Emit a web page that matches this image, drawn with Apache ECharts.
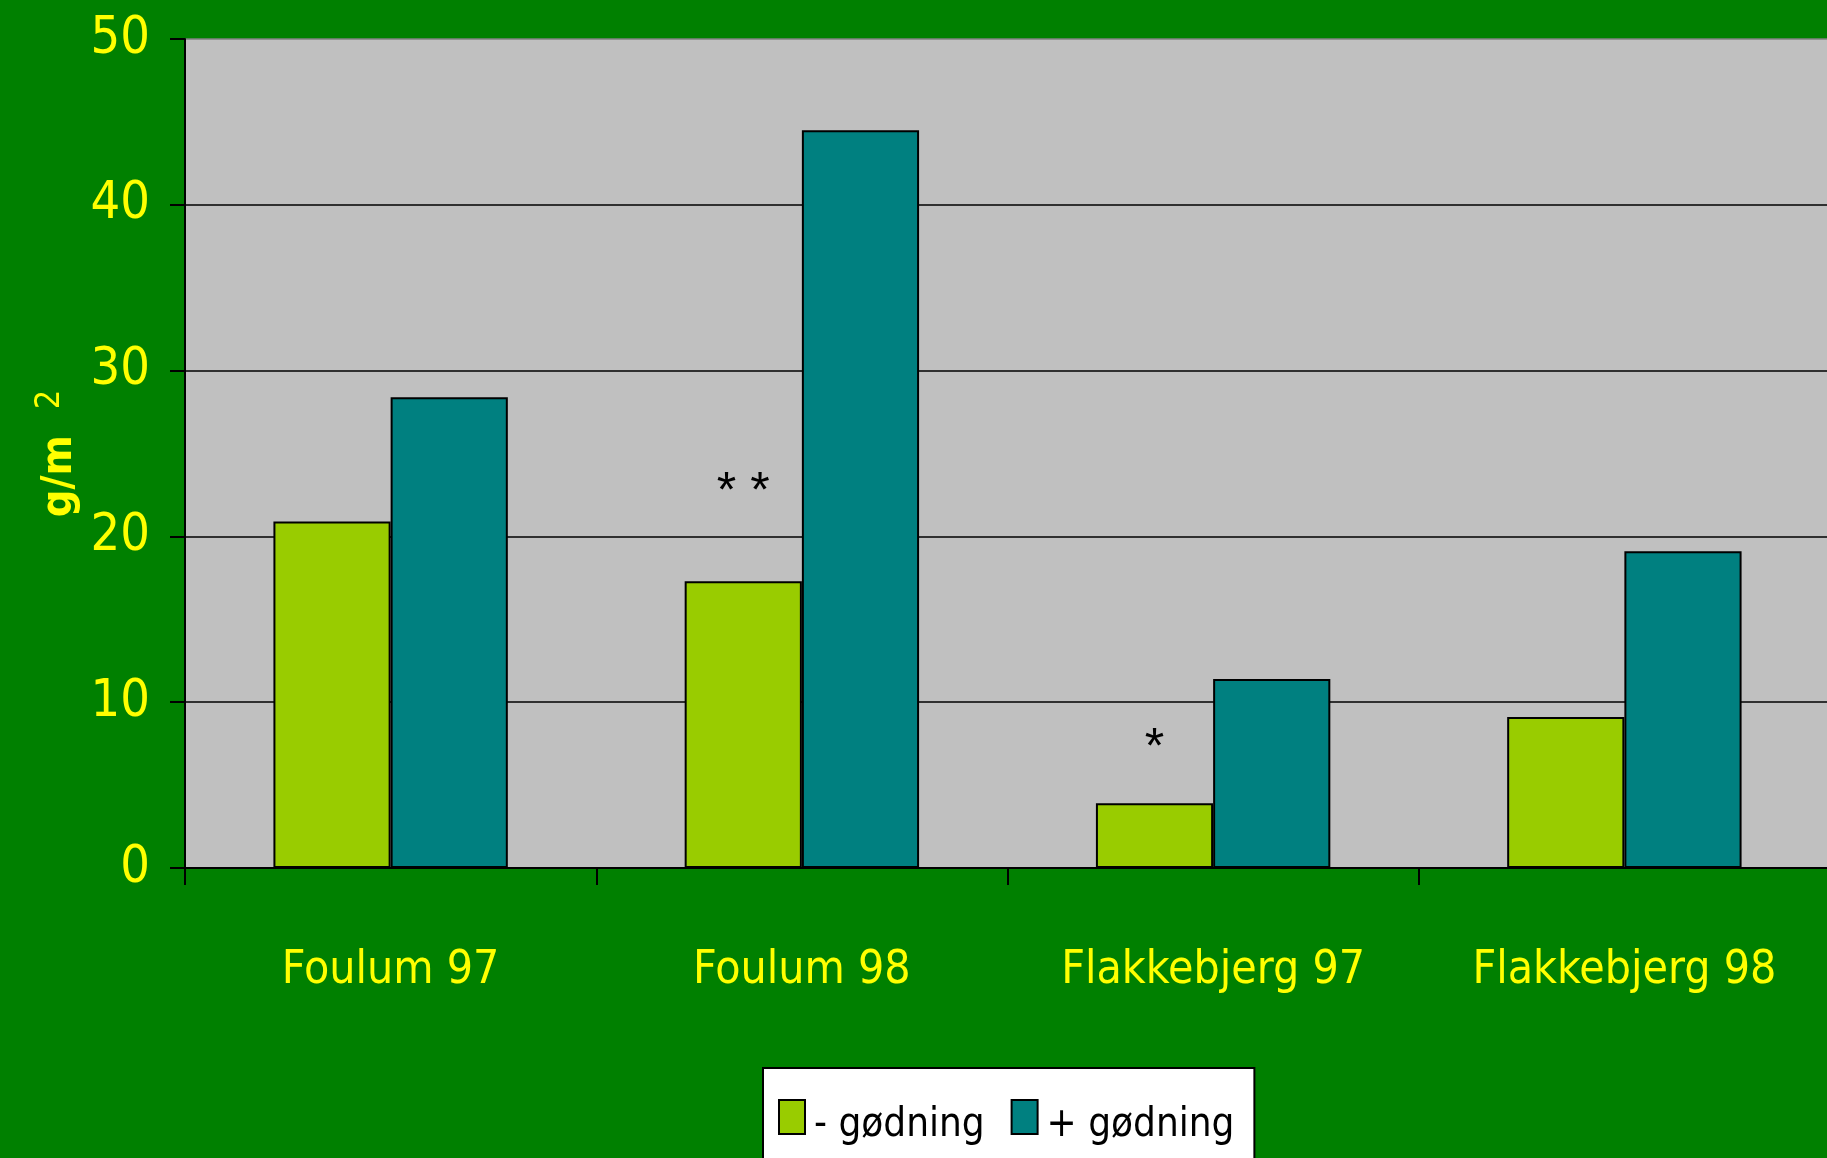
<!DOCTYPE html>
<html>
<head>
<meta charset="utf-8">
<title>Biomasse g/m2</title>
<script src="https://cdn.jsdelivr.net/npm/echarts@6/dist/echarts.min.js"></script>
<style>
  html, body { margin: 0; padding: 0; background: #008000; }
  #chart { width: 1827px; height: 1158px; }
</style>
</head>
<body>
<div id="chart"></div>
<script>
// Sites / years
const categories = ['Foulum 97', 'Foulum 98', 'Flakkebjerg 97', 'Flakkebjerg 98'];
// Biomass (g/m2) without and with fertiliser
const utenGodning = [20.9, 17.3, 3.9, 9.1];
const medGodning = [28.4, 44.5, 11.4, 19.1];
const seriesNames = ['- gødning', '+ gødning'];
// Significance marks: [category, height in g/m2, text]
const significance = [
  ['Foulum 98', 23.3, '* *'],
  ['Flakkebjerg 97', 7.9, '*']
];
const yTicks = { min: 0, max: 50, interval: 10 };

// Narrow face: the canvas font shorthand accepts a stretch keyword in the style slot
const FONT = '"DejaVu Sans", "Liberation Sans", sans-serif';
const NARROW = 'condensed';
const YELLOW = '#FFFF00';

const chart = echarts.init(document.getElementById('chart'), null, { renderer: 'canvas' });

chart.setOption({
  backgroundColor: '#008000',
  animation: false,
  grid: {
    left: 185,
    top: 39,
    right: -3,
    bottom: 290,
    outerBoundsMode: 'none',
    containLabel: false,
    show: true,
    backgroundColor: '#C0C0C0',
    borderWidth: 0
  },
  legend: {
    data: seriesNames,
    left: 763,
    top: 1068,
    orient: 'horizontal',
    itemWidth: 26,
    itemHeight: 34,
    itemGap: 26,
    padding: [20, 20, 40, 15],
    backgroundColor: '#FFFFFF',
    borderColor: '#000000',
    borderWidth: 2,
    icon: 'rect',
    itemStyle: { borderColor: '#000000', borderWidth: 2 },
    formatter: name => '{t|' + name + '}',
    textStyle: {
      color: '#000000',
      fontFamily: FONT,
      fontStyle: NARROW,
      fontSize: 40,
      rich: {
        t: {
          color: '#000000',
          fontFamily: FONT,
          fontStyle: NARROW,
          fontSize: 40,
          lineHeight: 44,
          padding: [18, 0, 0, 4]
        }
      }
    }
  },
  xAxis: {
    type: 'category',
    data: categories,
    axisLine: { show: true, lineStyle: { color: '#000000', width: 2 } },
    axisTick: { show: true, interval: 0, length: 17, lineStyle: { color: '#000000', width: 2 } },
    axisLabel: {
      interval: 0,
      color: YELLOW,
      fontFamily: FONT,
      fontStyle: NARROW,
      fontSize: 46,
      margin: 80
    },
    splitLine: { show: false }
  },
  yAxis: {
    type: 'value',
    min: yTicks.min,
    max: yTicks.max,
    interval: yTicks.interval,
    name: '{a|g/m}{b|2}',
    nameLocation: 'middle',
    nameRotate: 90,
    nameGap: 104,
    nameMoveOverlap: false,
    nameTextStyle: {
      rich: {
        a: {
          color: YELLOW,
          fontFamily: FONT,
          fontStyle: NARROW,
          fontWeight: 'bold',
          fontSize: 43,
          lineHeight: 48,
          verticalAlign: 'bottom'
        },
        b: {
          color: YELLOW,
          fontFamily: FONT,
          fontStyle: NARROW,
          fontSize: 34,
          lineHeight: 34,
          verticalAlign: 'top',
          padding: [0, 0, 29, 26]
        }
      }
    },
    axisLine: { show: true, lineStyle: { color: '#000000', width: 2 } },
    axisTick: { show: true, length: 15, lineStyle: { color: '#000000', width: 2 } },
    axisLabel: {
      color: YELLOW,
      fontFamily: FONT,
      fontStyle: NARROW,
      fontSize: 52,
      margin: 35
    },
    splitLine: {
      show: true,
      lineStyle: {
        color: ['#000000', '#000000', '#000000', '#000000', '#000000', '#808080'],
        width: 1.6
      }
    }
  },
  series: [
    {
      name: seriesNames[0],
      type: 'bar',
      data: utenGodning,
      barGap: '0%',
      barCategoryGap: '43%',
      itemStyle: { color: '#99CC00', borderColor: '#000000', borderWidth: 2 },
      markPoint: {
        symbol: 'rect',
        symbolSize: 1,
        itemStyle: { color: 'rgba(0,0,0,0)' },
        label: {
          show: true,
          position: 'inside',
          offset: [0, 12],
          color: '#000000',
          fontFamily: '"Liberation Sans", sans-serif',
          fontSize: 50,
          formatter: p => p.name
        },
        data: significance.map(s => ({ name: s[2], coord: [s[0], s[1]] }))
      }
    },
    {
      name: seriesNames[1],
      type: 'bar',
      data: medGodning,
      itemStyle: { color: '#008080', borderColor: '#000000', borderWidth: 2 }
    }
  ]
});
</script>
</body>
</html>
